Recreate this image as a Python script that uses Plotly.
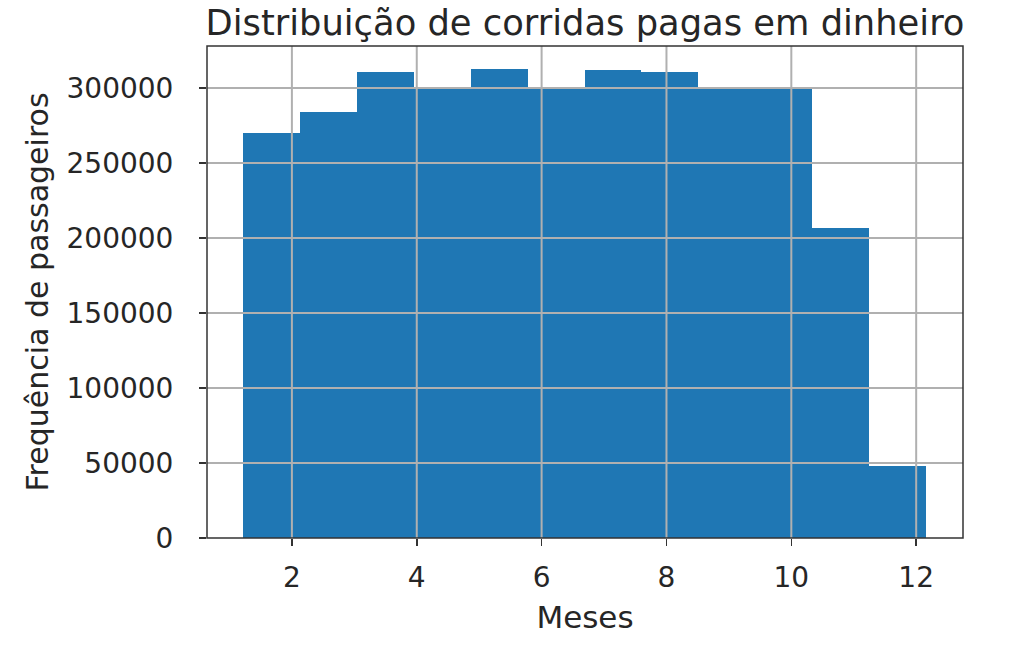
import numpy as np
import plotly.graph_objects as go

# Data
meses = [1, 2, 3, 4, 5, 6, 7, 8, 9, 10, 11, 12]
frequencias = [270200, 283800, 310700, 300900, 312400, 300700,
               312000, 310700, 300500, 300500, 206900, 48200]
bin_inicio = 1.215
bin_largura = 0.912
x_ticks = [2, 4, 6, 8, 10, 12]
y_ticks = [0, 50000, 100000, 150000, 200000, 250000, 300000]

titulo = "Distribuição de corridas pagas em dinheiro"
x_label = "Meses"
y_label = "Frequência de passageiros"

idx = np.arange(len(meses))
centros = bin_inicio + (idx + 0.5) * bin_largura

FONT = "DejaVu Sans"
TXT = "#262626"
GRID = "#b0b0b0"

fig = go.Figure()
fig.add_trace(go.Bar(
    x=centros, y=frequencias, width=bin_largura,
    marker=dict(color="#1f77b4", line=dict(width=0)),
    hoverinfo="skip",
))

# grid lines drawn above bars (matplotlib style)
shapes = []
for t in x_ticks:
    shapes.append(dict(type="line", xref="x", yref="paper", x0=t, x1=t, y0=0, y1=1,
                       line=dict(color=GRID, width=2), layer="above"))
for t in y_ticks[1:]:
    shapes.append(dict(type="line", xref="paper", yref="y", x0=0, x1=1, y0=t, y1=t,
                       line=dict(color=GRID, width=2), layer="above"))
# frame
shapes.append(dict(type="rect", xref="paper", yref="paper", x0=0, x1=1, y0=0, y1=1,
                   line=dict(color="#333333", width=1.5), layer="above"))

fig.update_layout(
    width=1026, height=655,
    margin=dict(l=207, r=63, t=46, b=117),
    paper_bgcolor="white", plot_bgcolor="white",
    showlegend=False,
    bargap=0,
    font=dict(family=FONT, color=TXT, size=28),
    title=dict(text=titulo, x=0.5, xref="paper", xanchor="center",
               y=1 - 23 / 655, yref="container", yanchor="middle",
               font=dict(family=FONT, size=35.3, color=TXT)),
    shapes=shapes,
)
fig.update_xaxes(
    range=[0.64, 12.75], tickvals=x_ticks, ticktext=[str(t) for t in x_ticks],
    showgrid=False, zeroline=False, showline=False,
    ticks="outside", ticklen=7, tickwidth=1.5, tickcolor="#333333",
    ticklabelstandoff=7,
    tickfont=dict(size=28, family=FONT, color=TXT),
    title=dict(text=x_label, font=dict(size=31, family=FONT, color=TXT), standoff=13),
)
fig.update_yaxes(
    range=[0, 328000], tickvals=y_ticks, ticktext=[str(t) for t in y_ticks],
    showgrid=False, zeroline=False, showline=False,
    ticks="outside", ticklen=7, tickwidth=1.5, tickcolor="#333333",
    ticklabelstandoff=20,
    tickfont=dict(size=28, family=FONT, color=TXT),
    title=dict(text=y_label, font=dict(size=30, family=FONT, color=TXT), standoff=9),
)

fig.write_html("out.html", config={"displayModeBar": False, "staticPlot": True},
               post_script="document.body.style.margin='0';")
